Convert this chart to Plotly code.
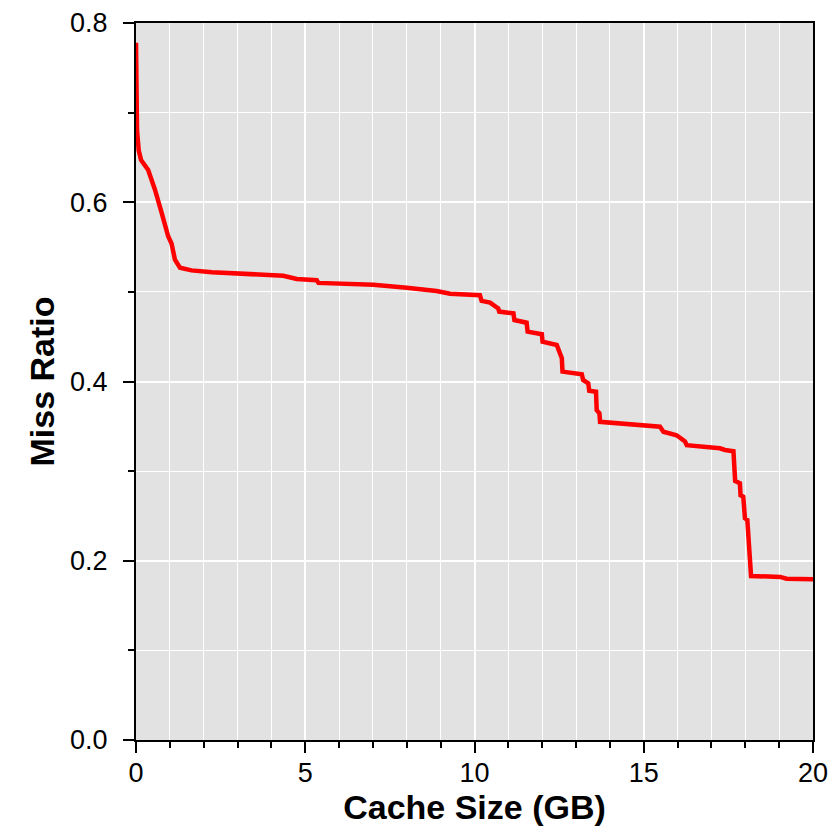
import plotly.graph_objects as go

cache_gb = [0.0, 0.01, 0.03, 0.08, 0.15, 0.36, 0.56, 0.76, 0.95, 1.05, 1.15, 1.30, 1.64, 2.24, 3.12,
            4.35, 4.75, 5.34, 5.39, 7.01, 8.0, 8.88, 9.28, 10.16, 10.21, 10.46, 10.70, 10.73,
            11.15, 11.18, 11.54, 11.57, 11.99, 12.01, 12.43, 12.48, 12.58, 12.60, 13.17, 13.21,
            13.36, 13.39, 13.59, 13.61, 13.69, 13.71, 14.69, 15.48, 15.58, 15.97, 16.22, 16.27,
            17.25, 17.40, 17.65, 17.70, 17.84, 17.86, 17.94, 17.99, 18.06, 18.17, 19.03, 19.22, 20.0]
miss_ratio = [0.778, 0.72, 0.68, 0.658, 0.647, 0.636, 0.614, 0.588, 0.562, 0.554, 0.536, 0.527, 0.524, 0.522, 0.520,
              0.518, 0.5144, 0.513, 0.510, 0.508, 0.5047, 0.501, 0.498, 0.4962, 0.490, 0.488, 0.4817, 0.478,
              0.476, 0.4686, 0.4656, 0.4556, 0.4527, 0.4444, 0.4407, 0.435, 0.4259, 0.411, 0.408, 0.4017,
              0.398, 0.3897, 0.3886, 0.368, 0.3646, 0.355, 0.3526, 0.3496, 0.344, 0.340, 0.333, 0.329,
              0.3255, 0.3236, 0.3222, 0.289, 0.2864, 0.273, 0.2715, 0.2473, 0.2455, 0.183, 0.182, 0.180, 0.1793]

x_ticks = [0, 5, 10, 15, 20]
y_ticks = [0.0, 0.2, 0.4, 0.6, 0.8]

fig = go.Figure()
fig.add_trace(go.Scatter(x=cache_gb, y=miss_ratio, mode="lines",
                         line=dict(color="#ff0000", width=4.5), showlegend=False))

font_family = "Liberation Sans, Arial, sans-serif"
axis_common = dict(
    showline=True, linecolor="black", linewidth=2, mirror=True,
    ticks="outside", ticklen=11, tickwidth=1.5, tickcolor="black",
    showgrid=True, gridcolor="white", gridwidth=1.5,
    zeroline=False, automargin=False,
    tickfont=dict(family=font_family, size=27, color="black"),
)

fig.update_xaxes(
    range=[0, 20], tickvals=x_ticks, ticktext=[str(v) for v in x_ticks],
    minor=dict(dtick=1, tick0=0, ticks="outside", ticklen=6, tickwidth=1.5, tickcolor="black",
               showgrid=True, gridcolor="white", gridwidth=1),
    ticklabelstandoff=-3,
    title=dict(text="<b>Cache Size (GB)</b>", font=dict(family=font_family, size=34, color="black"), standoff=8),
    **axis_common,
)
fig.update_yaxes(
    range=[0, 0.8], tickvals=y_ticks, ticktext=[f"{v:.1f}" for v in y_ticks],
    minor=dict(dtick=0.1, tick0=0, ticks="outside", ticklen=6, tickwidth=1.5, tickcolor="black",
               showgrid=True, gridcolor="white", gridwidth=1),
    ticklabelstandoff=10,
    title=dict(text="<b>Miss Ratio</b>", font=dict(family=font_family, size=34, color="black"), standoff=5),
    **axis_common,
)

fig.update_layout(
    width=833, height=832,
    margin=dict(l=136, r=20, t=23, b=92),
    plot_bgcolor="#e2e2e2", paper_bgcolor="white",
)

fig.write_html("out.html")
